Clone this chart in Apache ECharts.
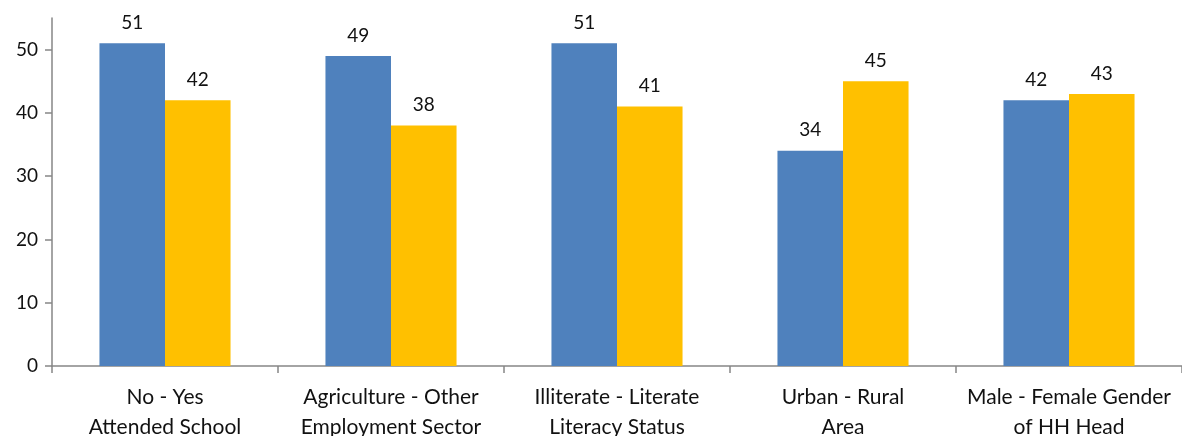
<!DOCTYPE html>
<html>
<head>
<meta charset="utf-8">
<script src="https://cdn.jsdelivr.net/npm/echarts@6/dist/echarts.min.js"></script>
<style>
  html, body { margin: 0; padding: 0; background: #fff; }
  #chart { width: 1182px; height: 436px; }
</style>
</head>
<body>
<div id="chart"></div>
<script>
// Paired comparisons: first value of each pair (blue) vs second (gold)
const categories = [
  'No - Yes\nAttended School',
  'Agriculture - Other\nEmployment Sector',
  'Illiterate - Literate\nLiteracy Status',
  'Urban - Rural\nArea',
  'Male - Female Gender\nof HH Head'
];
const firstGroup = [51, 49, 51, 34, 42];
const secondGroup = [42, 38, 41, 45, 43];
const yTicks = [0, 10, 20, 30, 40, 50];

const FONT = 'Lato, "Open Sans", sans-serif';
const AXIS_COLOR = '#868686';

const chart = echarts.init(document.getElementById('chart'));

const valueLabel = {
  show: true,
  position: 'top',
  distance: 11,
  color: '#111',
  fontFamily: FONT,
  fontSize: 19
};

chart.setOption({
  animation: false,
  grid: {
    left: 52, right: 0, top: 18, bottom: 70,
    containLabel: false,
    outerBoundsMode: 'none'
  },
  xAxis: {
    type: 'category',
    data: categories,
    axisLine: { lineStyle: { color: AXIS_COLOR, width: 1.5 } },
    axisTick: { show: true, alignWithLabel: false, length: 7, lineStyle: { color: AXIS_COLOR, width: 1.5 } },
    axisLabel: {
      color: '#111',
      fontFamily: FONT,
      fontSize: 21,
      lineHeight: 30,
      margin: 16,
      interval: 0
    }
  },
  yAxis: {
    type: 'value',
    min: 0,
    max: 55,
    interval: 10,
    splitLine: { show: false },
    axisLine: { show: true, lineStyle: { color: AXIS_COLOR, width: 1.5 } },
    axisTick: { show: true, length: 7, customValues: yTicks, lineStyle: { color: AXIS_COLOR, width: 1.5 } },
    axisLabel: {
      color: '#111',
      fontFamily: FONT,
      fontSize: 19,
      margin: 14,
      customValues: yTicks
    }
  },
  series: [
    {
      name: 'First',
      type: 'bar',
      data: firstGroup,
      barGap: '0%',
      barCategoryGap: '42%',
      itemStyle: { color: '#4F81BD' },
      label: valueLabel
    },
    {
      name: 'Second',
      type: 'bar',
      data: secondGroup,
      itemStyle: { color: '#FFC000' },
      label: valueLabel
    }
  ]
});
</script>
</body>
</html>
